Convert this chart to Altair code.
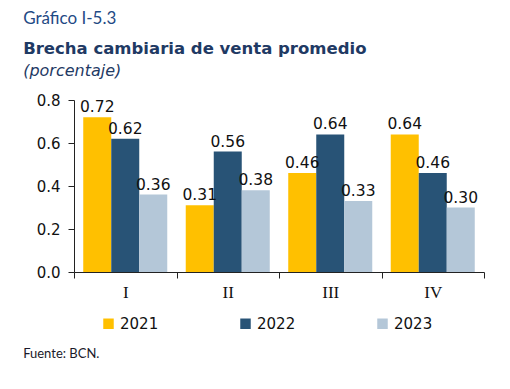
import altair as alt
import pandas as pd

quarters = ["I", "II", "III", "IV"]
years = ["2021", "2022", "2023"]
v2021 = [0.72, 0.31, 0.46, 0.64]
v2022 = [0.62, 0.56, 0.64, 0.46]
v2023 = [0.36, 0.38, 0.33, 0.30]

rows = []
for i, q in enumerate(quarters):
    for yr, vals in zip(years, [v2021, v2022, v2023]):
        rows.append({"trimestre": q, "anio": yr, "valor": vals[i]})
df = pd.DataFrame(rows)

colors = ["#FFC000", "#285376", "#B4C7D8"]
navy = "#1F3A64"
blue = "#1F4A85"

x = alt.X(
    "trimestre:N", sort=quarters,
    scale=alt.Scale(paddingInner=0, paddingOuter=0),
    axis=alt.Axis(title=None, labelAngle=0, tickBand="extent",
                  labelFont="Liberation Serif", labelFontSize=17, labelColor="#111111",
                  domainColor="#222222", tickColor="#222222", tickSize=6, labelPadding=6),
)
xo = alt.XOffset("anio:N", sort=years, scale=alt.Scale(paddingInner=0, paddingOuter=0.33))
y = alt.Y(
    "valor:Q", scale=alt.Scale(domain=[0, 0.8]),
    axis=alt.Axis(title=None, values=[0, 0.2, 0.4, 0.6, 0.8], format=".1f", grid=False,
                  labelFont="DejaVu Sans", labelFontSize=15, labelColor="#111111",
                  domainColor="#222222", tickColor="#222222", tickSize=6, labelPadding=8),
)

bars = alt.Chart(df).mark_bar().encode(
    x=x, xOffset=xo, y=y,
    color=alt.Color("anio:N", sort=years,
                    scale=alt.Scale(domain=years, range=colors),
                    legend=alt.Legend(title=None, orient="none", direction="horizontal",
                                      legendX=27, legendY=216,
                                      symbolType="square", symbolSize=110, symbolStrokeWidth=0,
                                      labelFont="DejaVu Sans", labelFontSize=15, labelColor="#111111",
                                      columnPadding=79, labelOffset=4)),
)
labels = alt.Chart(df).mark_text(baseline="bottom", dy=-2, font="DejaVu Sans", fontSize=15.5,
                                 color="#111111").encode(
    x=x, xOffset=xo, y=y, text=alt.Text("valor:Q", format=".2f"),
)

inner = alt.layer(bars, labels).properties(
    width=410, height=172,
    title=alt.TitleParams("Brecha cambiaria de venta promedio", subtitle="(porcentaje)",
                          anchor="start", dx=-13, font="DejaVu Sans", fontSize=16.5,
                          fontWeight="bold", color=navy, subtitleFont="DejaVu Sans",
                          subtitleFontSize=16, subtitleFontStyle="italic", subtitleColor=navy,
                          offset=14, subtitlePadding=6),
)

mid = alt.vconcat(inner, title=alt.TitleParams("Gráfico I-5.3", anchor="start",
                                               font="Lato", fontSize=17, fontWeight="normal",
                                               color=blue, offset=13))
chart = alt.vconcat(mid, title=alt.TitleParams("Fuente: BCN.", orient="bottom", anchor="start",
                                               font="Lato", fontSize=13,
                                               fontWeight="normal", color="#1a1a2a", offset=16)
).properties(padding={"left": 15, "top": 1, "right": 5, "bottom": 5}).configure_view(stroke=None)

chart.save("out.html", embed_options={"renderer": "svg", "actions": False})
